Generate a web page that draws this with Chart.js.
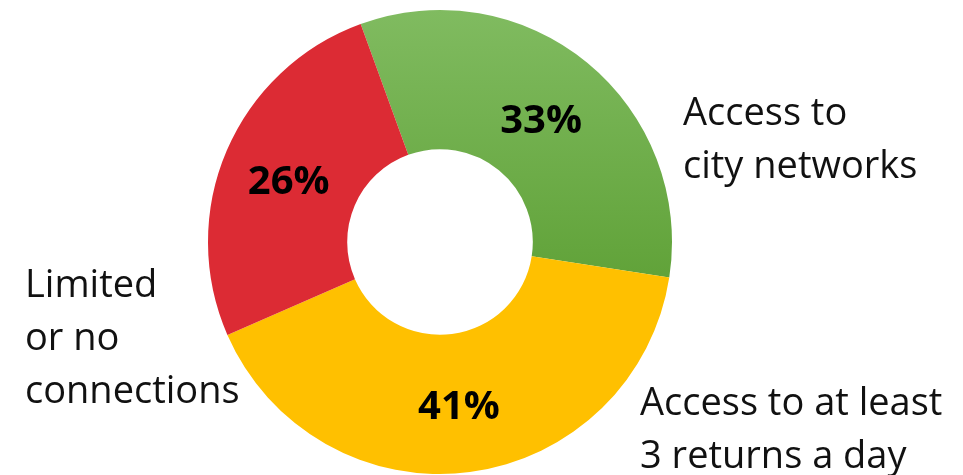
<!DOCTYPE html>
<html>
<head>
<meta charset="utf-8">
<script src="https://cdn.jsdelivr.net/npm/chart.js@4/dist/chart.umd.min.js"></script>
<style>
    html, body { margin: 0; padding: 0; background: #fff; }
    #wrap { width: 963px; height: 475px; position: relative; }
</style>
</head>
<body>
<div id="wrap"><canvas id="chart"></canvas></div>
<script>
// ─── Данные ────────────────────────────────────────────────────────────────

const categories = ["Access to city networks", "Access to at least 3 returns a day", "Limited or no connections"];
const shares = [33, 41, 26];
// Подписи по строкам, как на картинке
const labelLines = [
    ["Access to", "city networks"],
    ["Access to at least", "3 returns a day"],
    ["Limited", "or no", "connections"],
];

// ─── Стили ─────────────────────────────────────────────────────────────────

const RED = "#dc2b34";
const YELLOW = "#ffc000";
const LABEL_FONT = "38px 'Open Sans', sans-serif";
const PCT_FONT = "bold 40px 'Open Sans', sans-serif";

// где рисуем подписи категорий (левый край, базовая линия первой строки)
const labelSpots = [
    {x: 683, y: 125},
    {x: 640, y: 415},
    {x: 25, y: 297},
];
const LINE_H = 53;

function greenFill(context) {
    const {ctx, chartArea} = context.chart;
    if (!chartArea) return "#6aab44";
    const g = ctx.createLinearGradient(0, chartArea.top, 0, chartArea.top + 275);
    g.addColorStop(0, "#80bb60");
    g.addColorStop(1, "#60a238");
    return g;
}

// проценты внутри кольца + подписи категорий снаружи
const textPlugin = {
    id: "texts",
    afterDatasetsDraw(chart) {
        const {ctx} = chart;
        const meta = chart.getDatasetMeta(0);
        ctx.save();
        ctx.fillStyle = "#000";
        ctx.font = PCT_FONT;
        ctx.textAlign = "center";
        ctx.textBaseline = "middle";
        meta.data.forEach((arc, i) => {
            const p = arc.tooltipPosition();
            ctx.fillText(`${shares[i]}%`, p.x - 2, p.y + 5);
        });

        ctx.font = LABEL_FONT;
        ctx.textAlign = "left";
        ctx.textBaseline = "alphabetic";
        ctx.fillStyle = "#111";
        labelLines.forEach((lines, i) => {
            const spot = labelSpots[i];
            lines.forEach((line, j) => ctx.fillText(line, spot.x, spot.y + j * LINE_H));
        });
        ctx.restore();
    },
};

new Chart(document.getElementById("chart"), {
    type: "doughnut",
    data: {
        labels: categories,
        datasets: [{
            data: shares,
            backgroundColor: (c) => (c.dataIndex === 0 ? greenFill(c) : c.dataIndex === 1 ? YELLOW : RED),
            borderWidth: 0,
            hoverOffset: 0,
        }],
    },
    options: {
        responsive: true,
        maintainAspectRatio: false,
        animation: false,
        rotation: -20,
        cutout: "40%",
        layout: {padding: {top: 10, bottom: 1, left: 208, right: 291}},
        plugins: {
            legend: {display: false},
            tooltip: {enabled: false},
        },
    },
    plugins: [textPlugin],
});
</script>
</body>
</html>
